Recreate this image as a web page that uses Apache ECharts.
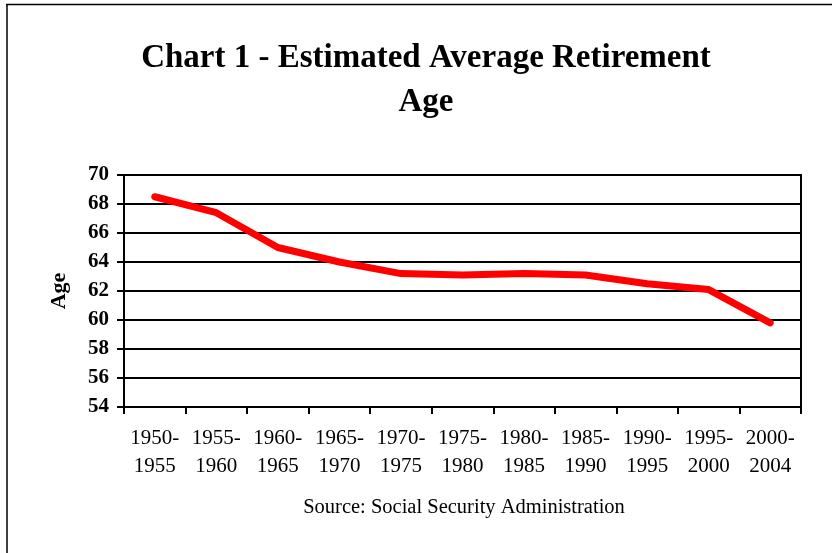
<!DOCTYPE html>
<html><head><meta charset="utf-8">
<script src="https://cdn.jsdelivr.net/npm/echarts@6/dist/echarts.min.js"></script>
<style>
html,body{margin:0;padding:0;background:#fff;}
#c{width:832px;height:553px;}
</style></head><body>
<div id="c"></div>
<script>
const categories = ['1950-\n1955','1955-\n1960','1960-\n1965','1965-\n1970','1970-\n1975','1975-\n1980','1980-\n1985','1985-\n1990','1990-\n1995','1995-\n2000','2000-\n2004'];
const ages = [68.5, 67.4, 65.0, 64.0, 63.2, 63.1, 63.2, 63.1, 62.5, 62.1, 59.8];
const titleText = 'Chart 1 - Estimated Average Retirement\nAge';
const sourceText = 'Source: Social Security Administration';
const yAxisName = 'Age';

const F = '"Liberation Serif","Times New Roman",serif';
const chart = echarts.init(document.getElementById('c'));
chart.setOption({
  animation:false,
  backgroundColor:'#fff',
  graphic:[
    {type:'line',shape:{x1:6,y1:4.5,x2:832,y2:4.5},style:{stroke:'#000',lineWidth:1.5}},
    {type:'line',shape:{x1:7,y1:4,x2:7,y2:553},style:{stroke:'#000',lineWidth:1.5}}
  ],
  title:[{
    text:titleText, left:421, top:31, textAlign:'center',
    textStyle:{fontFamily:F,fontSize:33,fontWeight:'bold',color:'#000',lineHeight:44}
  },{
    text:sourceText, left:459, top:492, textAlign:'center',
    textStyle:{fontFamily:F,fontSize:20.5,fontWeight:'normal',color:'#000'}
  }],
  grid:{left:124,right:31,top:175,bottom:146,show:true,borderColor:'#000',borderWidth:2,backgroundColor:'transparent'},
  xAxis:{
    type:'category', data:categories, boundaryGap:true,
    axisLine:{lineStyle:{color:'#000',width:2}},
    axisTick:{show:true,length:7,lineStyle:{color:'#000',width:2},inside:false},
    axisLabel:{fontFamily:F,fontSize:21,color:'#000',lineHeight:28,margin:17,interval:0}
  },
  yAxis:{
    type:'value', min:54, max:70, interval:2,
    name:yAxisName, nameLocation:'middle', nameGap:54, nameRotate:90,
    nameTextStyle:{fontFamily:F,fontSize:22,fontWeight:'bold',color:'#000'},
    axisLine:{show:true,lineStyle:{color:'#000',width:2}},
    axisTick:{show:true,length:7,lineStyle:{color:'#000',width:2}},
    axisLabel:{fontFamily:F,fontSize:21,fontWeight:'bold',color:'#000',margin:15},
    splitLine:{show:true,lineStyle:{color:'#000',width:2}}
  },
  series:[{
    type:'line', data:ages, symbol:'none',
    lineStyle:{color:'#ff0000',width:7,cap:'round',join:'round'}
  }]
});
</script>
</body></html>
